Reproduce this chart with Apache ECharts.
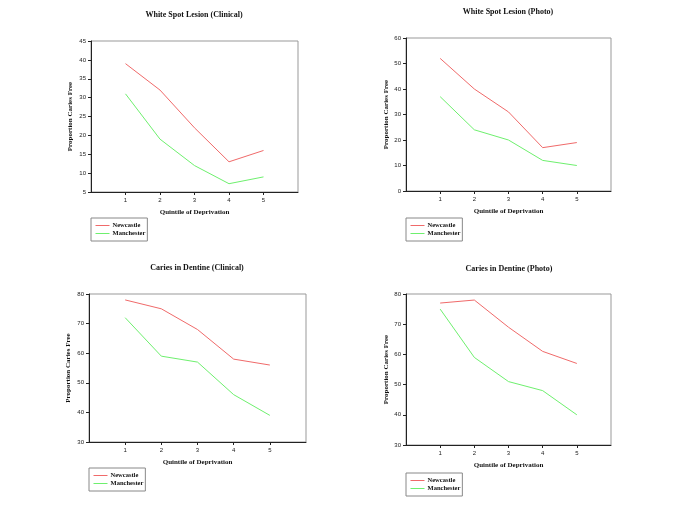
<!DOCTYPE html>
<html>
<head>
<meta charset="utf-8">
<script src="https://cdn.jsdelivr.net/npm/echarts@6/dist/echarts.min.js"></script>
<style>
  html, body { margin: 0; padding: 0; background: #fff; }
  #main { width: 685px; height: 513px; }
</style>
</head>
<body>
<div id="main"></div>
<script>
// quintile of deprivation
var quintiles = [1, 2, 3, 4, 5];
var seriesNames = ['Newcastle', 'Manchester'];

var titles = ['White Spot Lesion (Clinical)', 'White Spot Lesion (Photo)', 'Caries in Dentine (Clinical)', 'Caries in Dentine (Photo)'];

// white spot lesion, clinical
var wslClinicalNewcastle = [39, 32, 22, 13, 16];
var wslClinicalManchester = [31, 19, 12, 7.2, 9];
// white spot lesion, photo
var wslPhotoNewcastle = [52, 40, 31, 17, 19];
var wslPhotoManchester = [37, 24, 20, 12, 10];
// caries in dentine, clinical
var cidClinicalNewcastle = [78, 75, 68, 58, 56];
var cidClinicalManchester = [72, 59, 57, 46, 39];
// caries in dentine, photo
var cidPhotoNewcastle = [77, 78, 69, 61, 57];
var cidPhotoManchester = [75, 59, 51, 48, 40];

var yRanges = [[5, 45, 5], [0, 60, 10], [30, 80, 10], [30, 80, 10]];

var chart = echarts.init(document.getElementById('main'));

var serif = 'Liberation Serif';
var sans = 'Liberation Sans';
var red = '#f06a6a';
var green = '#6ef06e';
var lineColors = [red, green];

// panel boxes (plot area)
var grids = [
  {left: 91, top: 41, width: 207, height: 151},
  {left: 406, top: 38, width: 205, height: 153},
  {left: 89, top: 294, width: 217, height: 148},
  {left: 406, top: 294, width: 205, height: 151}
];
var titlePos = [[194, 15], [508, 12], [197, 268], [509, 269]];
var legendPos = [[91, 218], [406, 218], [89, 468], [406, 473]];
var yNameGap = [17, 16, 17, 16];

var data = [
  [wslClinicalNewcastle, wslClinicalManchester],
  [wslPhotoNewcastle, wslPhotoManchester],
  [cidClinicalNewcastle, cidClinicalManchester],
  [cidPhotoNewcastle, cidPhotoManchester]
];

function pairs(vals) {
  return quintiles.map(function (q, i) { return [q, vals[i]]; });
}

var option = {
  backgroundColor: '#fff',
  animation: false,
  title: [],
  legend: [],
  grid: [],
  xAxis: [],
  yAxis: [],
  series: []
};

for (var i = 0; i < 4; i++) {
  option.title.push({
    text: titles[i],
    left: titlePos[i][0],
    top: titlePos[i][1],
    textAlign: 'center',
    textVerticalAlign: 'middle',
    padding: 0,
    textStyle: {fontFamily: serif, fontWeight: 'bold', fontSize: 8, color: '#111'}
  });
  option.grid.push({
    left: grids[i].left, top: grids[i].top, width: grids[i].width, height: grids[i].height,
    show: true, borderColor: '#999', borderWidth: 1, backgroundColor: '#fff'
  });
  option.xAxis.push({
    type: 'value', gridIndex: i, min: 0, max: 6, interval: 1,
    name: 'Quintile of Deprivation', nameLocation: 'middle', nameGap: 17,
    nameTextStyle: {fontFamily: serif, fontWeight: 'bold', fontSize: 7, color: '#111'},
    axisLine: {lineStyle: {color: '#222', width: 1}},
    axisTick: {show: true, length: 3, customValues: quintiles, lineStyle: {color: '#222'}},
    axisLabel: {customValues: quintiles, fontFamily: sans, fontSize: 6, color: '#222', margin: 5},
    splitLine: {show: false}
  });
  option.yAxis.push({
    type: 'value', gridIndex: i, min: yRanges[i][0], max: yRanges[i][1], interval: yRanges[i][2],
    name: 'Proportion Caries Free', nameLocation: 'middle', nameGap: yNameGap[i],
    nameTextStyle: {fontFamily: serif, fontWeight: 'bold', fontSize: 7, color: '#111'},
    axisLine: {show: true, lineStyle: {color: '#222', width: 1}},
    axisTick: {show: true, length: 3, lineStyle: {color: '#222'}},
    axisLabel: {fontFamily: sans, fontSize: 6, color: '#222', margin: 5},
    splitLine: {show: false}
  });
  option.legend.push({
    left: legendPos[i][0], top: legendPos[i][1],
    orient: 'vertical',
    data: seriesNames.map(function (n, k) {
      return {name: n, lineStyle: {color: lineColors[k], width: 1}};
    }),
    borderColor: '#888', borderWidth: 1, borderRadius: 0,
    padding: [4, 2, 4, 4], itemGap: 1, itemWidth: 14, itemHeight: 7,
    itemStyle: {opacity: 0},
    textStyle: {fontFamily: serif, fontWeight: 'bold', fontSize: 6.5, color: '#111', padding: [0, 0, 0, -2]}
  });
  option.series.push({
    name: seriesNames[0], type: 'line', xAxisIndex: i, yAxisIndex: i,
    data: pairs(data[i][0]), symbol: 'none', color: red,
    lineStyle: {color: red, width: 1}
  });
  option.series.push({
    name: seriesNames[1], type: 'line', xAxisIndex: i, yAxisIndex: i,
    data: pairs(data[i][1]), symbol: 'none', color: green,
    lineStyle: {color: green, width: 1}
  });
}

chart.setOption(option);
</script>
</body>
</html>
